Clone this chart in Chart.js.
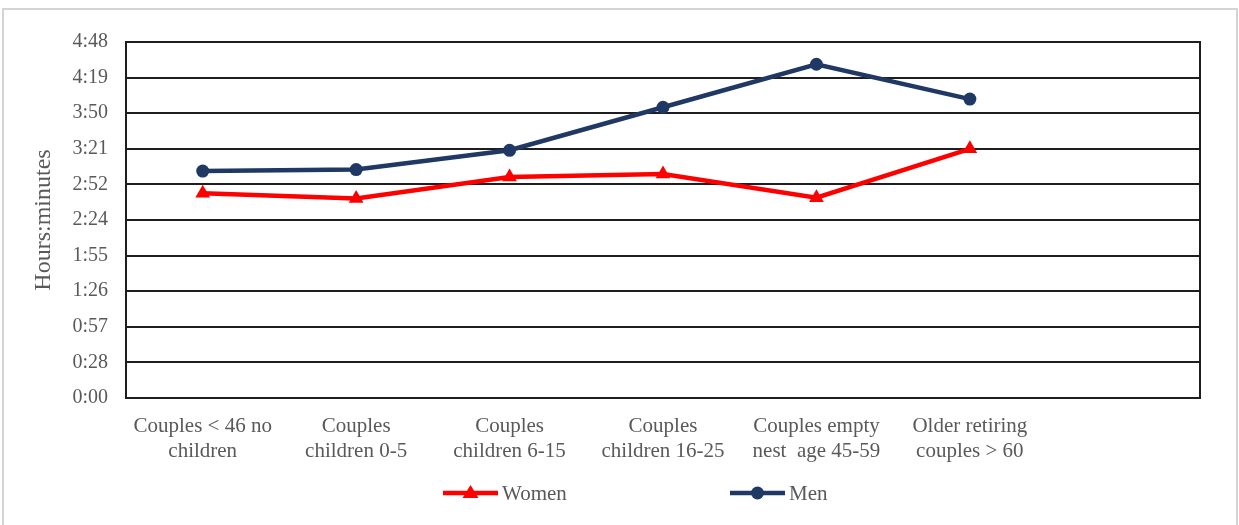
<!DOCTYPE html>
<html>
<head>
<meta charset="utf-8">
<script src="https://cdn.jsdelivr.net/npm/chart.js@4.4.1/dist/chart.umd.min.js"></script>
<style>
    html, body { margin: 0; padding: 0; background: #fff; }
    #frame { position: absolute; left: 2px; top: 8px; width: 1232px; height: 530px; border: 2px solid #d4d4d4; border-bottom: none; }
    #wrap { position: absolute; left: 0; top: 0; width: 1239px; height: 525px; }
</style>
</head>
<body>
<div id="frame"></div>
<div id="wrap"><canvas id="lifeChart" width="1239" height="525"></canvas></div>
<script>
// Categories (7th slot is empty in the original)
const categories = [
    ['Couples < 46 no', 'children'],
    ['Couples', 'children 0-5'],
    ['Couples', 'children 6-15'],
    ['Couples', 'children 16-25'],
    ['Couples empty', 'nest  age 45-59'],
    ['Older retiring', 'couples > 60'],
    ''
];

// Values in hours
const womenHours = [2.76, 2.69, 2.98, 3.02, 2.70, 3.36];
const menHours = [3.06, 3.08, 3.34, 3.92, 4.50, 4.03];

// Axis: 0:00 .. 4:48 in 10 equal steps
const yMax = 4.8;
const yStep = 0.48;

const womenColor = '#ff0000';
const menColor = '#1f3864';
const textColor = '#595959';
const gridColor = '#1e1e1e';
const serif = "'Liberation Serif', 'Times New Roman', serif";

function toHourMinutes(value) {
    const total = Math.floor(value * 60 + 1e-6);
    const h = Math.floor(total / 60);
    const m = total % 60;
    return h + ':' + (m < 10 ? '0' + m : m);
}

// Legend drawn like the original: short line, symbol in the middle, label on the right
const lineLegend = {
    id: 'lineLegend',
    afterDraw(chart, args, opts) {
        const g = chart.ctx;
        g.save();
        chart.data.datasets.forEach(function(ds, i) {
            const x = opts.starts[i];
            const y = opts.y;
            const len = opts.lineLength;
            g.strokeStyle = ds.borderColor;
            g.fillStyle = ds.borderColor;
            g.lineWidth = ds.borderWidth;
            g.beginPath();
            g.moveTo(x, y);
            g.lineTo(x + len, y);
            g.stroke();
            const cx = x + len / 2;
            g.beginPath();
            if (ds.pointStyle === 'circle') {
                g.arc(cx, y, 6.5, 0, Math.PI * 2);
            } else {
                g.moveTo(cx, y - 8);
                g.lineTo(cx + 8, y + 5);
                g.lineTo(cx - 8, y + 5);
                g.closePath();
            }
            g.fill();
            g.fillStyle = textColor;
            g.font = opts.font;
            g.textBaseline = 'middle';
            g.textAlign = 'left';
            g.fillText(ds.label, x + len + 4, y + 1);
        });
        g.restore();
    }
};

const ctx = document.getElementById('lifeChart').getContext('2d');
const lifeChart = new Chart(ctx, {
    type: 'line',
    data: {
        labels: categories,
        datasets: [
            {
                label: 'Women',
                data: womenHours,
                borderColor: womenColor,
                backgroundColor: womenColor,
                borderWidth: 4.5,
                pointStyle: 'triangle',
                pointRadius: 8.5,
                pointBorderWidth: 0,
                tension: 0,
                fill: false
            },
            {
                label: 'Men',
                data: menHours,
                borderColor: menColor,
                backgroundColor: menColor,
                borderWidth: 4.5,
                pointStyle: 'circle',
                pointRadius: 6.5,
                pointBorderWidth: 0,
                tension: 0,
                fill: false
            }
        ]
    },
    options: {
        responsive: false,
        animation: false,
        devicePixelRatio: 1,
        layout: {
            padding: { left: 29, right: 38, top: 42, bottom: 0 }
        },
        plugins: {
            legend: { display: false },
            tooltip: { enabled: false },
            lineLegend: {
                starts: [443, 730],
                y: 493,
                lineLength: 55,
                font: '21px ' + serif
            }
        },
        scales: {
            x: {
                offset: true,
                grid: { display: false, drawTicks: false },
                border: { display: true, color: gridColor, width: 2 },
                ticks: {
                    color: textColor,
                    padding: 16,
                    maxRotation: 0,
                    autoSkip: false,
                    font: { family: serif, size: 21, lineHeight: 1.2 }
                },
                afterFit: function(scale) { scale.height = 127; }
            },
            y: {
                min: 0,
                max: yMax,
                ticks: {
                    stepSize: yStep,
                    color: textColor,
                    padding: 18,
                    font: { family: serif, size: 20 },
                    callback: function(value) { return toHourMinutes(value); }
                },
                grid: { color: gridColor, lineWidth: 2, drawTicks: false },
                border: { display: true, color: gridColor, width: 2 },
                title: {
                    display: true,
                    text: 'Hours:minutes',
                    color: textColor,
                    padding: 0,
                    font: { family: serif, size: 24 }
                },
                afterFit: function(scale) { scale.width = 97; }
            },
            yRight: {
                position: 'right',
                min: 0,
                max: yMax,
                ticks: { display: false },
                grid: { drawOnChartArea: false, drawTicks: false },
                border: { display: true, color: gridColor, width: 2 },
                afterFit: function(scale) { scale.width = 1; }
            }
        }
    },
    plugins: [lineLegend]
});
</script>
</body>
</html>
